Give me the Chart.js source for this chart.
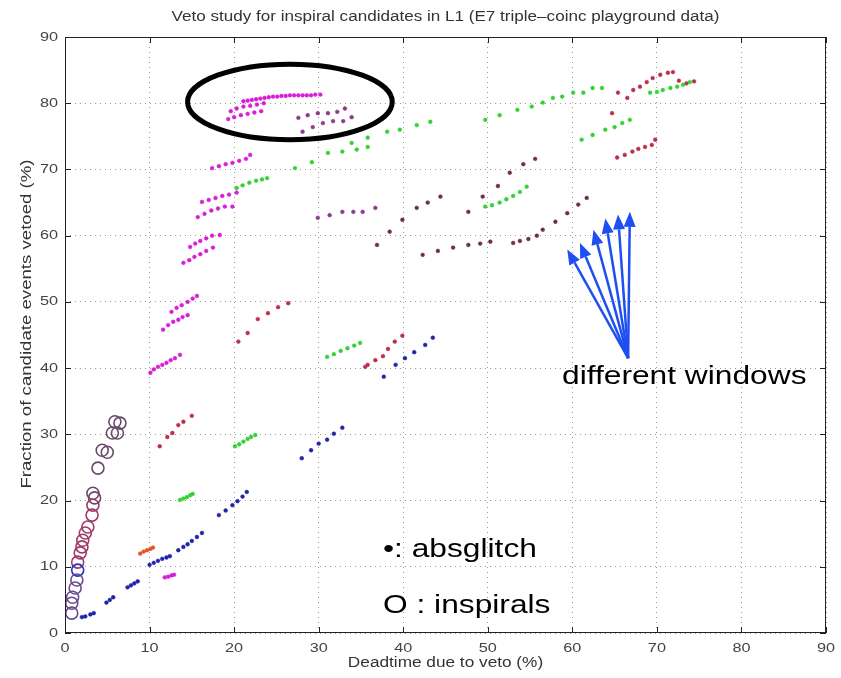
<!DOCTYPE html>
<html>
<head>
<meta charset="utf-8">
<script src="https://cdn.jsdelivr.net/npm/chart.js@4"></script>
<style>
  html, body { margin: 0; padding: 0; background: #fff; }
  canvas { display: block; }
</style>
</head>
<body>
<canvas id="vetoChart" width="841" height="678"></canvas>
<script>
// axis ranges / ticks
const xTicks = [0, 10, 20, 30, 40, 50, 60, 70, 80, 90];
const yTicks = [0, 10, 20, 30, 40, 50, 60, 70, 80, 90];

// absglitch veto points: [deadtime %, fraction vetoed %]
const blueDots = [
    [2.0, 2.4], [2.4, 2.5], [3.0, 2.8], [3.4, 3.0],
    [4.9, 4.6], [5.3, 5.0], [5.7, 5.4],
    [7.4, 6.9], [7.8, 7.2], [8.2, 7.5], [8.6, 7.8],
    [10.0, 10.3], [10.5, 10.6], [11.0, 10.9], [11.5, 11.2], [12.0, 11.4], [12.4, 11.6],
    [13.4, 12.5], [14.0, 13.0], [14.5, 13.4], [15.0, 13.9], [15.6, 14.5], [16.2, 15.1],
    [18.2, 17.8], [19.0, 18.5], [19.8, 19.3], [20.4, 19.9], [21.0, 20.6], [21.5, 21.3],
    [28.0, 26.4], [29.1, 27.6], [30.0, 28.6], [31.0, 29.2], [31.8, 30.1], [32.8, 31.0],
    [37.7, 38.7], [39.1, 40.5], [40.2, 41.5], [41.3, 42.4], [42.6, 43.5], [43.5, 44.6]
];
const orangeDots = [[8.9, 12.0], [9.3, 12.3], [9.7, 12.5], [10.1, 12.7], [10.4, 12.9]];
const redDots = [
    [11.2, 28.2], [12.1, 29.6], [12.7, 30.2], [13.4, 31.4], [14.0, 31.9], [15.0, 32.8],
    [20.5, 44.0], [21.6, 45.3], [22.8, 47.4], [24.0, 48.3], [25.2, 49.2], [26.4, 49.8],
    [35.5, 40.2], [35.8, 40.5], [36.7, 41.2], [37.6, 41.8], [38.2, 42.9], [39.0, 44.0], [39.9, 44.9],
    [64.7, 78.5], [65.4, 81.6], [66.5, 80.8], [67.2, 82.0], [68.0, 82.5], [68.8, 83.2],
    [69.5, 83.8], [70.4, 84.3], [71.3, 84.6], [71.9, 84.7], [72.6, 83.4], [73.5, 83.0], [74.4, 83.3],
    [65.3, 71.8], [66.2, 72.2], [67.1, 72.7], [67.8, 73.1], [68.6, 73.4], [69.4, 73.7], [69.8, 74.5]
];
const darkDots = [
    [36.9, 58.6], [38.4, 60.6], [39.9, 62.4], [41.6, 64.2], [42.9, 65.0], [44.4, 65.9],
    [47.7, 63.6], [49.4, 65.9], [51.2, 67.5], [52.6, 69.5], [54.2, 70.8], [55.6, 71.6],
    [42.3, 57.1], [44.1, 57.7], [45.9, 58.2], [47.7, 58.6], [49.1, 58.8], [50.3, 59.1],
    [53.0, 58.9], [53.8, 59.2], [54.8, 59.5], [55.8, 60.0], [56.5, 60.9], [58.0, 62.1],
    [59.4, 63.4], [60.7, 64.7], [61.7, 65.7]
];
const greenDots = [
    [13.6, 20.1], [14.0, 20.3], [14.4, 20.5], [14.8, 20.8], [15.1, 21.0],
    [20.1, 28.2], [20.6, 28.5], [21.1, 28.9], [21.6, 29.3], [22.0, 29.6], [22.5, 29.9],
    [31.0, 41.7], [31.8, 42.1], [32.6, 42.6], [33.4, 43.0], [34.2, 43.4], [34.9, 43.8],
    [49.7, 64.4], [50.5, 64.6], [51.4, 65.0], [52.2, 65.5], [53.0, 66.0], [53.8, 66.6], [54.6, 67.4],
    [20.3, 67.2], [21.0, 67.6], [21.8, 68.0], [22.6, 68.3], [23.3, 68.5], [23.9, 68.7],
    [27.2, 70.2], [29.2, 71.1], [31.1, 72.5], [32.8, 72.7], [33.9, 74.0], [34.5, 73.0],
    [35.8, 74.8], [35.8, 73.4], [38.1, 75.7], [39.6, 76.0], [41.6, 76.7], [43.2, 77.2],
    [49.7, 77.5], [51.4, 78.2], [53.5, 79.0], [55.2, 79.5], [56.5, 80.1], [57.7, 80.8],
    [58.8, 81.0], [60.1, 81.6], [61.3, 81.6], [62.4, 82.3], [63.5, 82.3],
    [61.1, 74.5], [62.4, 75.2], [63.9, 76.0], [65.0, 76.4], [65.9, 77.0], [66.8, 77.5],
    [69.2, 81.6], [70.0, 81.7], [70.7, 82.0], [71.6, 82.3], [72.4, 82.5], [73.1, 82.8], [73.9, 83.2]
];
const magentaDots = [
    [11.8, 8.4], [12.2, 8.5], [12.6, 8.7], [12.9, 8.8],
    [10.1, 39.3], [10.5, 39.8], [11.0, 40.2], [11.5, 40.5], [12.0, 40.8], [12.5, 41.2], [13.0, 41.5], [13.6, 42.0],
    [11.6, 45.8], [12.2, 46.5], [12.8, 47.0], [13.4, 47.3], [13.9, 47.7], [14.5, 48.0],
    [12.6, 48.5], [13.2, 49.1], [13.8, 49.5], [14.5, 50.0], [15.1, 50.5], [15.6, 50.9],
    [14.0, 55.9], [14.7, 56.3], [15.3, 56.8], [16.0, 57.2], [16.7, 57.7], [17.5, 58.2],
    [14.8, 58.3], [15.4, 58.8], [16.0, 59.2], [16.7, 59.6], [17.4, 60.0], [18.3, 60.1],
    [15.7, 62.8], [16.5, 63.3], [17.3, 63.8], [18.1, 64.1], [18.9, 64.4], [19.8, 64.4],
    [16.2, 65.1], [17.0, 65.4], [17.8, 65.7], [18.6, 66.0], [19.4, 66.2], [20.3, 66.5],
    [17.4, 70.2], [18.2, 70.5], [19.0, 70.8], [19.8, 71.0], [20.6, 71.3], [21.4, 71.6], [21.9, 72.2],
    [19.3, 77.6], [20.0, 77.9], [20.8, 78.2], [21.6, 78.4], [22.4, 78.6], [23.2, 78.8],
    [19.6, 78.8], [20.3, 79.2], [21.1, 79.5], [21.9, 79.6], [22.7, 79.8], [23.5, 80.0],
    [21.1, 80.3], [21.6, 80.4], [22.1, 80.5], [22.6, 80.6], [23.1, 80.7], [23.6, 80.8],
    [24.1, 80.9], [24.6, 81.0], [25.1, 81.0], [25.6, 81.1], [26.1, 81.1], [26.6, 81.2],
    [27.1, 81.2], [27.6, 81.2], [28.1, 81.2], [28.6, 81.2], [29.1, 81.2], [29.6, 81.3], [30.2, 81.3]
];
const purpleDots = [
    [29.9, 62.7], [31.3, 63.1], [32.8, 63.6], [34.1, 63.6], [35.2, 63.6], [36.7, 64.2],
    [27.6, 77.8], [28.7, 78.2], [29.9, 78.5], [31.1, 78.5], [32.2, 78.7], [33.1, 79.2],
    [28.1, 75.7], [29.3, 76.4], [30.5, 77.0], [31.7, 77.3], [32.9, 77.3], [33.9, 77.9]
];

// inspiral candidates (open circles)
const circlesDark = [
    [5.9, 31.9], [6.5, 31.7], [5.6, 30.2], [6.2, 30.2], [4.4, 27.6], [5.0, 27.3],
    [3.9, 24.9], [3.3, 21.1], [3.5, 20.4]
];
const circlesRed = [
    [3.3, 19.3], [3.2, 17.8], [2.7, 16.0], [2.4, 15.1], [2.1, 14.0], [2.0, 13.0], [1.8, 12.1], [1.5, 10.7]
];
const circlesBlue = [[1.5, 9.5]];
const circlesPurple = [[1.4, 8.0], [1.2, 6.8], [0.9, 5.4], [0.8, 4.5], [0.8, 3.0]];

const toXY = pts => pts.map(p => ({ x: p[0], y: p[1] }));

function dotSet(pts, color) {
    return {
        data: toXY(pts),
        pointStyle: 'circle',
        pointRadius: 1.9,
        pointBackgroundColor: color,
        pointBorderColor: color,
        pointBorderWidth: 0.5,
        showLine: false
    };
}

function ringSet(pts, color) {
    return {
        data: toXY(pts),
        pointStyle: 'circle',
        pointRadius: 6,
        pointBackgroundColor: 'rgba(0,0,0,0)',
        pointBorderColor: color,
        pointBorderWidth: 1.6,
        showLine: false
    };
}

// text drawn wider than the font's natural width
function wideText(ctx, text, x, y, sx, align) {
    ctx.save();
    ctx.translate(x, y);
    ctx.scale(sx, 1);
    ctx.textAlign = align;
    ctx.fillText(text, 0, 0);
    ctx.restore();
}

const FONT = '"Liberation Sans", Arial, sans-serif';

// Frame, inner ticks, tick labels, ellipse, arrows and the text labels
const decorations = {
    id: 'decorations',
    afterDraw(chart) {
        const { ctx, chartArea: a, scales } = chart;
        const xs = scales.x, ys = scales.y;
        ctx.save();

        // box around the axes
        ctx.strokeStyle = '#222';
        ctx.lineWidth = 1;
        ctx.strokeRect(a.left + 0.5, a.top + 0.5, a.right - a.left - 1, a.bottom - a.top - 1);

        // inward tick marks on all four sides
        ctx.beginPath();
        xs.ticks.forEach(t => {
            const px = Math.round(xs.getPixelForValue(t.value)) + 0.5;
            ctx.moveTo(px, a.bottom); ctx.lineTo(px, a.bottom - 6);
            ctx.moveTo(px, a.top); ctx.lineTo(px, a.top + 6);
        });
        ys.ticks.forEach(t => {
            const py = Math.round(ys.getPixelForValue(t.value)) + 0.5;
            ctx.moveTo(a.left, py); ctx.lineTo(a.left + 6, py);
            ctx.moveTo(a.right, py); ctx.lineTo(a.right - 6, py);
        });
        ctx.stroke();

        // tick labels
        ctx.fillStyle = '#444';
        ctx.font = '13px ' + FONT;
        ctx.textBaseline = 'middle';
        xs.ticks.forEach(t => wideText(ctx, String(t.value), xs.getPixelForValue(t.value), 648, 1.25, 'center'));
        ys.ticks.forEach(t => wideText(ctx, String(t.value), 58, ys.getPixelForValue(t.value), 1.25, 'right'));

        // titles
        ctx.fillStyle = '#333';
        ctx.font = '14px ' + FONT;
        const midX = (a.left + a.right) / 2;
        wideText(ctx, 'Veto study for inspiral candidates in L1 (E7 triple\u2013coinc playground data)', midX, 17, 1.22, 'center');
        wideText(ctx, 'Deadtime due to veto (%)', midX, 663, 1.23, 'center');
        ctx.save();
        ctx.translate(27, 324);
        ctx.rotate(-Math.PI / 2);
        wideText(ctx, 'Fraction of candidate events vetoed (%)', 0, 0, 1.33, 'center');
        ctx.restore();

        // highlight ellipse
        const cx = xs.getPixelForValue(26.6), cy = ys.getPixelForValue(80.2);
        const rx = xs.getPixelForValue(26.6 + 12.1) - cx;
        const ry = cy - ys.getPixelForValue(80.2 + 5.7);
        ctx.beginPath();
        ctx.ellipse(cx, cy, rx, ry, 0, 0, Math.PI * 2);
        ctx.strokeStyle = '#000';
        ctx.lineWidth = 5;
        ctx.stroke();

        // arrows pointing at the window series
        const tail = [xs.getPixelForValue(66.6), ys.getPixelForValue(41.5)];
        const tips = [[59.4, 57.9], [60.9, 58.9], [62.5, 60.9], [63.9, 62.6], [65.4, 63.2], [66.8, 63.6]];
        ctx.strokeStyle = '#1f4ff0';
        ctx.fillStyle = '#1f4ff0';
        ctx.lineWidth = 2.5;
        tips.forEach(t => {
            const hx = xs.getPixelForValue(t[0]), hy = ys.getPixelForValue(t[1]);
            const ang = Math.atan2(hy - tail[1], hx - tail[0]);
            const len = 15, half = 6;
            const bx = hx - len * Math.cos(ang), by = hy - len * Math.sin(ang);
            ctx.beginPath();
            ctx.moveTo(tail[0], tail[1]);
            ctx.lineTo(bx, by);
            ctx.stroke();
            ctx.beginPath();
            ctx.moveTo(hx, hy);
            ctx.lineTo(bx + half * Math.sin(ang), by - half * Math.cos(ang));
            ctx.lineTo(bx - half * Math.sin(ang), by + half * Math.cos(ang));
            ctx.closePath();
            ctx.fill();
        });

        // labels
        ctx.fillStyle = '#000';
        ctx.textBaseline = 'alphabetic';
        ctx.font = '26px ' + FONT;
        wideText(ctx, 'different windows', 562, 384, 1.22, 'left');
        wideText(ctx, '\u2022: absglitch', 383, 557, 1.22, 'left');
        wideText(ctx, 'O : inspirals', 383, 613, 1.22, 'left');

        ctx.restore();
    }
};

new Chart(document.getElementById('vetoChart').getContext('2d'), {
    type: 'scatter',
    data: {
        datasets: [
            dotSet(greenDots, '#34d034'),
            dotSet(blueDots, '#1f25a8'),
            dotSet(orangeDots, '#e8502a'),
            dotSet(redDots, '#b8304a'),
            dotSet(darkDots, '#6e3040'),
            dotSet(magentaDots, '#d61ed6'),
            dotSet(purpleDots, '#8a3a8a'),
            ringSet(circlesPurple, '#6a4a90'),
            ringSet(circlesBlue, '#2030d0'),
            ringSet(circlesRed, '#a03a6a'),
            ringSet(circlesDark, '#6a4a6a')
        ]
    },
    options: {
        responsive: false,
        animation: false,
        layout: { padding: { top: 37, right: 15, left: 0, bottom: 0 } },
        plugins: { legend: { display: false }, tooltip: { enabled: false } },
        scales: {
            x: {
                type: 'linear', min: 0, max: 90,
                afterBuildTicks: s => { s.ticks = xTicks.map(v => ({ value: v })); },
                afterFit: s => { s.height = 45; },
                ticks: { display: false },
                grid: { color: '#9a9a9a', lineWidth: 1, drawTicks: false },
                border: { display: false, dash: [1, 4] }
            },
            y: {
                type: 'linear', min: 0, max: 90,
                afterBuildTicks: s => { s.ticks = yTicks.map(v => ({ value: v })); },
                afterFit: s => { s.width = 65; },
                ticks: { display: false },
                grid: { color: '#9a9a9a', lineWidth: 1, drawTicks: false },
                border: { display: false, dash: [1, 4] }
            }
        }
    },
    plugins: [decorations]
});
</script>
</body>
</html>
